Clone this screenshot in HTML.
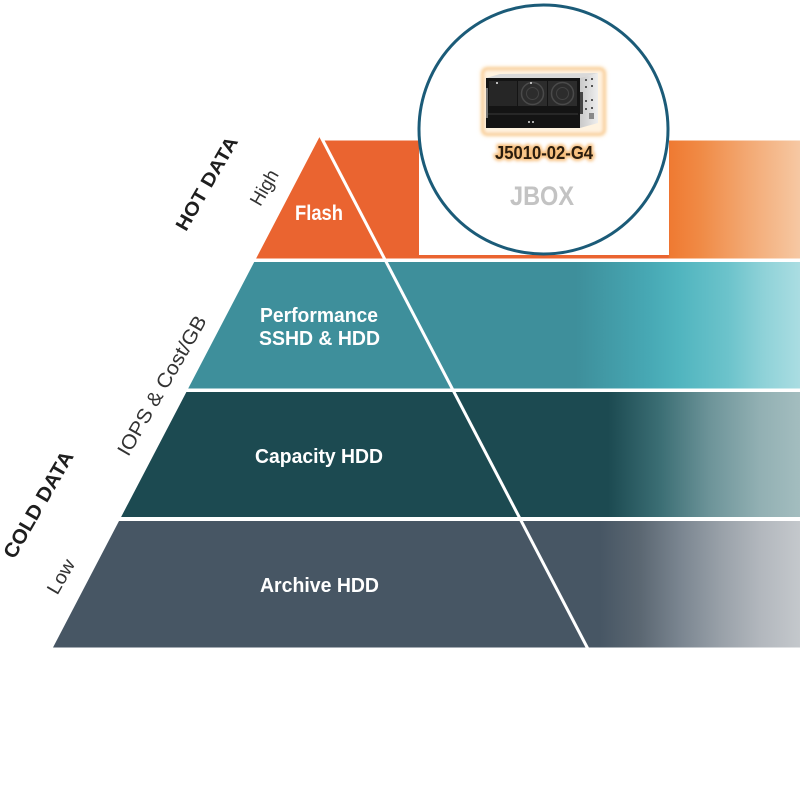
<!DOCTYPE html>
<html><head><meta charset="utf-8"><style>
html,body{margin:0;padding:0;background:#fff;width:800px;height:800px;overflow:hidden}
svg{display:block}
text{font-family:"Liberation Sans",Arial,sans-serif}
</style></head><body>
<svg width="800" height="800" viewBox="0 0 800 800" xmlns="http://www.w3.org/2000/svg">
<defs>
<linearGradient id="gO" gradientUnits="userSpaceOnUse" x1="0" y1="0" x2="800" y2="0">
<stop offset="0" stop-color="#ea6430"/><stop offset="0.835" stop-color="#ea6430"/>
<stop offset="0.8375" stop-color="#ef7a32"/><stop offset="0.875" stop-color="#f08a45"/>
<stop offset="0.9375" stop-color="#f3aa75"/><stop offset="1" stop-color="#f6c8a3"/>
</linearGradient>
<linearGradient id="gP" gradientUnits="userSpaceOnUse" x1="0" y1="0" x2="800" y2="0">
<stop offset="0" stop-color="#3e8f9b"/><stop offset="0.72" stop-color="#3e8f9b"/>
<stop offset="0.81" stop-color="#47a8b4"/><stop offset="0.85" stop-color="#51b5bf"/>
<stop offset="0.91" stop-color="#6cc3cb"/><stop offset="0.955" stop-color="#8fd2d8"/>
<stop offset="1" stop-color="#aadde2"/>
</linearGradient>
<linearGradient id="gC" gradientUnits="userSpaceOnUse" x1="0" y1="0" x2="800" y2="0">
<stop offset="0" stop-color="#1c4a51"/><stop offset="0.76" stop-color="#1c4a51"/>
<stop offset="0.825" stop-color="#3b6e74"/><stop offset="0.8875" stop-color="#6d9499"/>
<stop offset="0.95" stop-color="#92b0b3"/><stop offset="1" stop-color="#a3bdbf"/>
</linearGradient>
<linearGradient id="gA" gradientUnits="userSpaceOnUse" x1="0" y1="0" x2="800" y2="0">
<stop offset="0" stop-color="#475664"/><stop offset="0.75" stop-color="#475664"/>
<stop offset="0.8" stop-color="#5b6772"/><stop offset="0.85" stop-color="#7a8590"/>
<stop offset="0.9" stop-color="#98a0a8"/><stop offset="0.95" stop-color="#b2b7bd"/>
<stop offset="1" stop-color="#c4c8cc"/>
</linearGradient>
<linearGradient id="gSide" x1="0" y1="0" x2="1" y2="0">
<stop offset="0" stop-color="#c9c9c9"/><stop offset="1" stop-color="#eeeeee"/>
</linearGradient>
<filter id="blur2" x="-20%" y="-20%" width="140%" height="140%"><feGaussianBlur stdDeviation="2"/></filter>
<filter id="blur1" x="-20%" y="-50%" width="140%" height="200%"><feGaussianBlur stdDeviation="1.5"/></filter>
</defs>

<!-- Tiers -->
<polygon points="320,136 256.1,258.5 800,258.5 800,140.5 322.3,140.5" fill="url(#gO)"/>
<polygon points="254.2,262 188.2,388.5 800,388.5 800,262" fill="url(#gP)"/>
<polygon points="186.4,392 121.1,517 800,517 800,392" fill="url(#gC)"/>
<polygon points="119,521 53,647.5 800,647.5 800,521" fill="url(#gA)"/>

<!-- diagonal white line -->
<line x1="320" y1="135" x2="588.5" y2="650" stroke="#fff" stroke-width="3"/>

<!-- white box + circle -->
<rect x="419" y="0" width="250" height="255" fill="#fff"/>
<circle cx="543.5" cy="129.5" r="124.5" fill="none" stroke="#1b5b78" stroke-width="3"/>

<!-- server image -->
<rect x="481" y="67" width="125" height="69" rx="6" fill="#fce2bb" filter="url(#blur2)"/>
<rect x="483" y="69" width="121" height="65" rx="4" fill="#fff3e0" stroke="#f6c07a" stroke-width="2" filter="url(#blur1)"/>
<polygon points="486,78 500,74 598,73 580,78" fill="#d9d9d9"/>
<polygon points="580,78 598,73 598,123 580,128" fill="url(#gSide)"/>
<g fill="#555">
<rect x="585" y="79" width="2" height="2"/><rect x="591" y="78" width="2" height="2"/>
<rect x="585" y="86" width="2" height="2"/><rect x="591" y="85" width="2" height="2"/>
<rect x="585" y="100" width="2" height="2"/><rect x="591" y="99" width="2" height="2"/>
<rect x="585" y="108" width="2" height="2"/><rect x="591" y="107" width="2" height="2"/>
<rect x="589" y="113" width="5" height="6" fill="#888"/>
</g>
<rect x="580" y="92" width="3" height="22" fill="#444"/>
<rect x="486" y="78" width="94" height="50" fill="#141414"/>
<rect x="489" y="81" width="28" height="25" fill="#262626"/>
<rect x="518" y="81" width="29" height="25" fill="#2c2c2c"/>
<rect x="548" y="81" width="29" height="25" fill="#2c2c2c"/>
<circle cx="532.5" cy="93.5" r="11" fill="none" stroke="#4a4a4a" stroke-width="1.5"/>
<circle cx="532.5" cy="93.5" r="6" fill="none" stroke="#444" stroke-width="1"/>
<circle cx="562.5" cy="93.5" r="11" fill="none" stroke="#4a4a4a" stroke-width="1.5"/>
<circle cx="562.5" cy="93.5" r="6" fill="none" stroke="#444" stroke-width="1"/>
<rect x="486" y="88" width="2" height="30" fill="#777"/>
<line x1="488" y1="114" x2="578" y2="114" stroke="#3a3a3a" stroke-width="1"/>
<rect x="528" y="121" width="2" height="2" fill="#aaa"/><rect x="532" y="121" width="2" height="2" fill="#aaa"/>
<rect x="496" y="82" width="2" height="2" fill="#bbb"/><rect x="530" y="82" width="2" height="2" fill="#bbb"/>

<!-- model text with glow -->
<text x="544" y="159" text-anchor="middle" font-weight="bold" font-size="18" textLength="98" lengthAdjust="spacingAndGlyphs" fill="#f6b56c" stroke="#f8c07e" stroke-width="4" filter="url(#blur1)">J5010-02-G4</text>
<text x="544" y="159" text-anchor="middle" font-weight="bold" font-size="18" textLength="98" lengthAdjust="spacingAndGlyphs" fill="#2b1d0e">J5010-02-G4</text>
<text x="542" y="205" text-anchor="middle" font-weight="bold" font-size="27" textLength="64" lengthAdjust="spacingAndGlyphs" fill="#c3c3c3">JBOX</text>

<!-- pyramid labels -->
<g fill="#fff" font-weight="bold" text-anchor="middle">
<text x="319" y="220" font-size="21" textLength="48" lengthAdjust="spacingAndGlyphs">Flash</text>
<text x="319" y="322" font-size="20" textLength="118" lengthAdjust="spacingAndGlyphs">Performance</text>
<text x="319.5" y="345" font-size="20" textLength="121" lengthAdjust="spacingAndGlyphs">SSHD &amp; HDD</text>
<text x="319" y="463" font-size="20" textLength="128" lengthAdjust="spacingAndGlyphs">Capacity HDD</text>
<text x="319.5" y="592" font-size="20" textLength="119" lengthAdjust="spacingAndGlyphs">Archive HDD</text>
</g>

<!-- left rotated labels -->
<g text-anchor="middle" dominant-baseline="central">
<text transform="translate(207.5,184) rotate(-60)" font-weight="bold" font-size="19" fill="#1e1e1e" textLength="105" lengthAdjust="spacingAndGlyphs">HOT DATA</text>
<text transform="translate(265,188) rotate(-60)" font-size="19" fill="#333" textLength="38" lengthAdjust="spacingAndGlyphs">High</text>
<text transform="translate(162.5,386) rotate(-60)" font-size="20" fill="#333" textLength="158" lengthAdjust="spacingAndGlyphs">IOPS &amp; Cost/GB</text>
<text transform="translate(39,505) rotate(-60)" font-weight="bold" font-size="20" fill="#1e1e1e" textLength="120" lengthAdjust="spacingAndGlyphs">COLD DATA</text>
<text transform="translate(61.7,577) rotate(-60)" font-size="19" fill="#333" textLength="37" lengthAdjust="spacingAndGlyphs">Low</text>
</g>
</svg>
</body></html>
